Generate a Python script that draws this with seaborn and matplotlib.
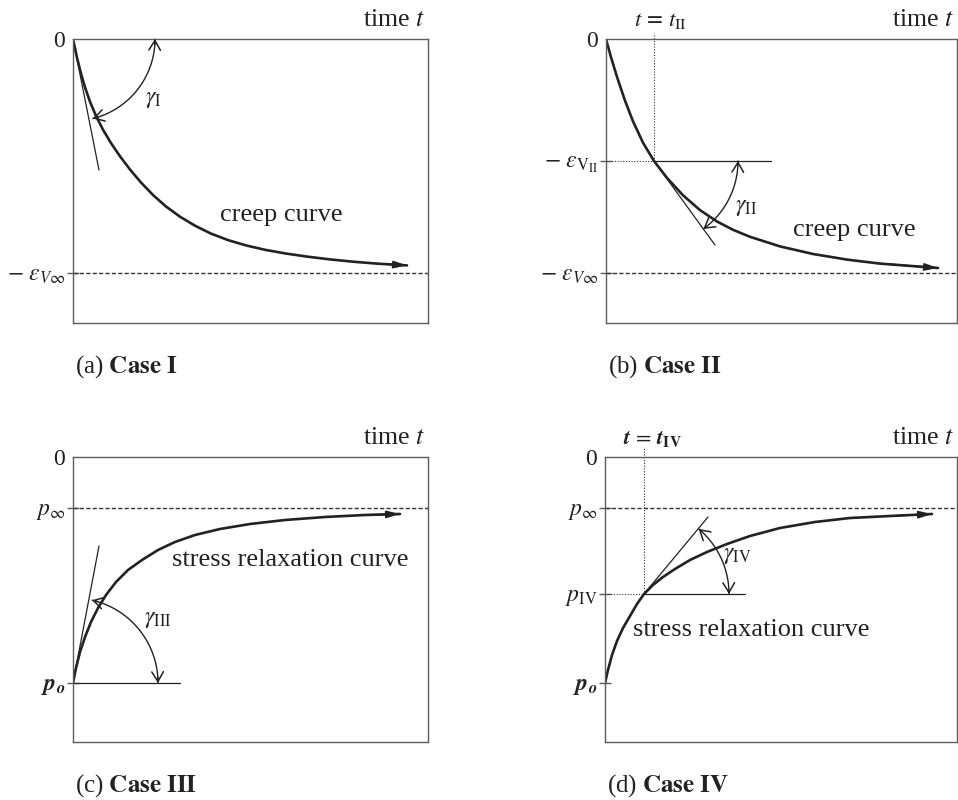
import numpy as np
import matplotlib
matplotlib.use("Agg")
import matplotlib.pyplot as plt
import seaborn as sns

sns.set_theme(style="white")
plt.rcParams["font.family"] = ["Liberation Serif", "DejaVu Serif"]
plt.rcParams["mathtext.fontset"] = "stix"

INK = "#222222"
FRAME = "#5c5c5c"

# ---------------- Case I: creep curve ----------------
t_I = [0, 4, 8, 12, 17, 23, 30, 38, 47, 57, 68, 80, 93, 107, 122, 138, 155, 173, 192,
       212, 234, 257, 280, 305, 334]
eps_I = [0, -18.6, -34.6, -48.3, -62.7, -76.9, -90.7, -104.1, -117.3, -130.5, -143.5,
         -156.0, -167.5, -177.7, -186.7, -194.6, -201.1, -206.4, -210.8, -214.4, -217.6,
         -220.4, -222.7, -224.7, -226.4]
eps_inf_I = -234
tangent_I = ([0, 26], [0, -131])

# ---------------- Case II: creep curve, tangent at t_II ----------------
t_II_curve = [0, 5, 11, 19, 27, 37, 48, 61, 77, 94, 111, 127, 144, 174, 207, 241, 274, 332]
eps_II = [0, -18.2, -37.9, -61.6, -82.3, -103.7, -122.0, -138.9, -156.3, -171.1, -182.5,
          -190.8, -197.8, -207.4, -215.0, -220.6, -224.6, -229.0]
eps_inf_II = -234
t_II, eps_V_II = 48, -122
tangent_II = ([48, 109], [-122, -206])

# ---------------- Case III: stress relaxation curve ----------------
t_III = [0, 3, 7, 12, 18, 25, 33, 43, 55, 69, 85, 102, 122, 147, 177, 212, 252, 292, 327]
p_III = [-226, -211, -195, -180, -165, -151, -138, -125, -113, -103, -93, -85, -78, -72,
         -67, -63, -60, -58, -57]
p_inf_III, p_o_III = -51, -226
tangent_III = ([0, 26], [-226, -89])

# ---------------- Case IV: stress relaxation curve, tangent at t_IV ----------------
t_IV_curve = [0, 3, 7, 12, 18, 25, 32, 39, 48, 58, 70, 85, 102, 122, 145, 175, 210, 245, 285, 327]
p_IV_curve = [-226, -213, -198, -184, -171, -159, -147, -137, -128, -120, -112, -103, -95,
              -87, -79, -71, -65, -61, -59, -57]
p_inf_IV, p_o_IV = -51, -226
t_IV, p_IV = 39, -137
tangent_IV = ([39, 103], [-137, -60])

FW, FH = 958, 800
fig = plt.figure(figsize=(FW / 100, FH / 100), dpi=100)


def make_axes(left, top, right, bottom):
    ax = fig.add_axes([left / FW, 1 - bottom / FH, (right - left) / FW, (bottom - top) / FH])
    ax.set_xlim(0, right - left)
    ax.set_ylim(-(bottom - top), 0)
    for s in ax.spines.values():
        s.set_color(FRAME)
        s.set_linewidth(1.0)
    ax.set_xticks([])
    ax.tick_params(axis="y", direction="inout", length=9, width=1.0, color=FRAME,
                   labelsize=17, pad=1, left=True)
    ax.set_facecolor("white")
    return ax


def set_levels(ax, values, labels, hide_first=True):
    ax.set_yticks(values)
    ax.set_yticklabels(labels)
    for lab in ax.get_yticklabels():
        lab.set_color(INK)
    if hide_first:
        ax.yaxis.get_major_ticks()[0].tick1line.set_visible(False)


def curve(ax, t, v):
    sns.lineplot(x=t, y=v, ax=ax, color=INK, lw=1.9, sort=False, estimator=None)
    ax.annotate("", xy=(t[-1], v[-1]), xytext=(t[-2], v[-2]),
                arrowprops=dict(arrowstyle="-|>,head_length=0.8,head_width=0.22",
                                color=INK, lw=1.2, shrinkA=0, shrinkB=0,
                                mutation_scale=10))


def angle_arc(ax, center, r, a0, a1):
    th = np.radians(np.linspace(a0, a1, 80))
    x = center[0] + r * np.cos(th)
    y = center[1] + r * np.sin(th)
    ax.plot(x, y, color=INK, lw=1.0, clip_on=False)
    for i, j in ((0, 4), (-1, -5)):
        ax.annotate("", xy=(x[i], y[i]), xytext=(x[j], y[j]),
                    arrowprops=dict(arrowstyle="->,head_length=0.7,head_width=0.42",
                                    color=INK, lw=1.1, shrinkA=0, shrinkB=0,
                                    mutation_scale=10), annotation_clip=False)


def hline(ax, y, x0, x1, **kw):
    ax.plot([x0, x1], [y, y], clip_on=False, **kw)


def common_text(ax, caption_tag, caption_bold):
    ax.annotate("time $t$", xy=(1, 1), xycoords="axes fraction", xytext=(-3, 13),
                textcoords="offset pixels", ha="right", va="baseline", fontsize=18.5,
                color=INK)
    ax.annotate(caption_tag + r" $\mathbf{" + caption_bold.replace(" ", r"\ ") + "}$",
                xy=(0, 0), xycoords="axes fraction", xytext=(2, -44),
                textcoords="offset pixels", ha="left", va="center", fontsize=18,
                color=INK)


DASH = dict(color="#333333", lw=1.0, ls=(0, (3, 1.6)))
THIN = dict(color=INK, lw=0.9)
DOT = dict(color="#333333", lw=0.8, ls=(0, (1, 1.5)))

# ---- (a) Case I ----
ax = make_axes(73, 39, 428, 323)
W = 355
hline(ax, eps_inf_I, 0, W, **DASH)
ax.plot(*tangent_I, **THIN)
curve(ax, t_I, eps_I)
angle_arc(ax, (0, 0), 82, 0, -76)
ax.text(80, -60, r"$\gamma_{\mathrm{I}}$", fontsize=17, ha="center", va="center", color=INK)
ax.text(147, -176, "creep curve", fontsize=19, ha="left", va="center", color=INK)
set_levels(ax, [0, eps_inf_I], ["0", r"$-\ \varepsilon_{V\infty}$"])
common_text(ax, "(a)", "Case I")

# ---- (b) Case II ----
ax = make_axes(606, 39, 957, 323)
W = 351
hline(ax, eps_inf_II, 0, W, **DASH)
hline(ax, eps_V_II, 0, t_II, **DOT)
hline(ax, eps_V_II, t_II, 165, **THIN)
ax.plot([t_II, t_II], [eps_V_II, 6], clip_on=False, **DOT)
ax.plot(*tangent_II, **THIN)
curve(ax, t_II_curve, eps_II)
angle_arc(ax, (t_II, eps_V_II), 84, 0, -54)
ax.text(140, -168, r"$\gamma_{\mathrm{II}}$", fontsize=17, ha="center", va="center", color=INK)
ax.text(187, -191, "creep curve", fontsize=19, ha="left", va="center", color=INK)
ax.annotate(r"$t\,=\,t_{\mathrm{II}}$", xy=(t_II + 6, 1), xycoords=("data", "axes fraction"),
            xytext=(0, 13), textcoords="offset pixels", ha="center", va="baseline",
            fontsize=16.5, color=INK)
set_levels(ax, [0, eps_V_II, eps_inf_II],
           ["0", r"$-\ \varepsilon_{\mathrm{V}_{\mathrm{II}}}$", r"$-\ \varepsilon_{V\infty}$"])
common_text(ax, "(b)", "Case II")

# ---- (c) Case III ----
ax = make_axes(73, 457, 428, 742)
W = 355
hline(ax, p_inf_III, 0, W, **DASH)
hline(ax, p_o_III, 0, 107, **THIN)
ax.plot(*tangent_III, **THIN)
curve(ax, t_III, p_III)
angle_arc(ax, (0, p_o_III), 85, 0, 77)
ax.text(85, -163, r"$\gamma_{\mathrm{III}}$", fontsize=17, ha="center", va="center", color=INK)
ax.text(99, -103, "stress relaxation curve", fontsize=19, ha="left", va="center", color=INK)
set_levels(ax, [0, p_inf_III, p_o_III], ["0", r"$p_\infty$", r"$\mathbfit{p}_{\mathbfit{o}}$"])
common_text(ax, "(c)", "Case III")

# ---- (d) Case IV ----
ax = make_axes(605, 457, 957, 742)
W = 352
hline(ax, p_inf_IV, 0, W, **DASH)
hline(ax, p_IV, 0, t_IV, **DOT)
hline(ax, p_IV, t_IV, 140, **THIN)
ax.plot([t_IV, t_IV], [p_IV, 10], clip_on=False, **DOT)
ax.plot(*tangent_IV, **THIN)
curve(ax, t_IV_curve, p_IV_curve)
angle_arc(ax, (t_IV, p_IV), 85, 0, 50)
ax.text(132, -98, r"$\gamma_{\mathrm{IV}}$", fontsize=17, ha="center", va="center", color=INK)
ax.text(28, -173, "stress relaxation curve", fontsize=19, ha="left", va="center", color=INK)
ax.annotate(r"$\mathbfit{t}\,=\,\mathbfit{t}_{\mathbf{IV}}$", xy=(t_IV + 8, 1),
            xycoords=("data", "axes fraction"), xytext=(0, 13), textcoords="offset pixels",
            ha="center", va="baseline", fontsize=16, color=INK)
set_levels(ax, [0, p_inf_IV, p_IV, p_o_IV],
           ["0", r"$p_\infty$", r"$p_{\mathrm{IV}}$", r"$\mathbfit{p}_{\mathbfit{o}}$"])
common_text(ax, "(d)", "Case IV")

fig.savefig("out.png", dpi=100, facecolor="white")
